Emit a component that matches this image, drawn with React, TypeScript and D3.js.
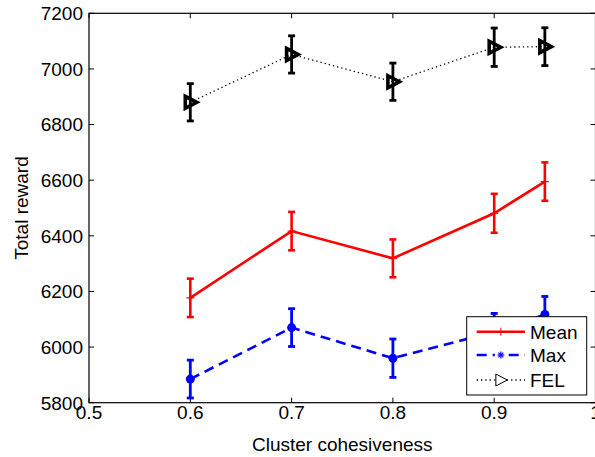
import React from "react";
import * as d3 from "d3";

// chart data
const xVals = [0.6, 0.7, 0.8, 0.9, 0.95];
const meanVals = [6177, 6417, 6319, 6481, 6595];
const meanErr = [69, 69, 68, 70, 69];
const maxVals = [5885, 6070, 5960, 6055, 6117];
const maxErr = [68, 68, 69, 66, 65];
const felVals = [6880, 7052, 6954, 7078, 7080];
const felErr = [67, 67, 67, 69, 68];

const xTicks = [0.5, 0.6, 0.7, 0.8, 0.9, 1];
const yTicks = [5800, 6000, 6200, 6400, 6600, 6800, 7000, 7200];
const legendNames = ["Mean", "Max", "FEL"];

const W = 595;
const H = 457;
const left = 89, right = 595.5, top = 13.3, bottom = 402.7;
const font = "'Liberation Sans', Arial, Helvetica, sans-serif";

const App = () => {
  const x = d3.scaleLinear().domain([0.5, 1]).range([left, right]);
  const y = d3.scaleLinear().domain([5800, 7200]).range([bottom, top]);

  const line = d3.line<number>()
    .x((d, i) => x(xVals[i]))
    .y(d => y(d));

  const errBars = (vals: number[], errs: number[], color: string, sw: number) =>
    vals.map((v, i) => {
      const cx = x(xVals[i]);
      const y1 = y(v + errs[i]);
      const y2 = y(v - errs[i]);
      return (
        <g key={"e" + i} stroke={color} strokeWidth={sw}>
          <line x1={cx} x2={cx} y1={y1} y2={y2} />
          <line x1={cx - 3.5} x2={cx + 3.5} y1={y1} y2={y1} />
          <line x1={cx - 3.5} x2={cx + 3.5} y1={y2} y2={y2} />
        </g>
      );
    });

  const tri = (cx: number, cy: number, s: number) =>
    `M${cx - s * 0.5},${cy - s * 0.6}L${cx + s * 0.65},${cy}L${cx - s * 0.5},${cy + s * 0.6}Z`;

  const star = (cx: number, cy: number, r: number, color: string) => (
    <g stroke={color} strokeWidth={1.2}>
      <line x1={cx - r} x2={cx + r} y1={cy} y2={cy} />
      <line x1={cx} x2={cx} y1={cy - r} y2={cy + r} />
      <line x1={cx - r * 0.7} x2={cx + r * 0.7} y1={cy - r * 0.7} y2={cy + r * 0.7} />
      <line x1={cx - r * 0.7} x2={cx + r * 0.7} y1={cy + r * 0.7} y2={cy - r * 0.7} />
    </g>
  );

  const lgX = 466.7, lgY = 316.7, lgW = 120, lgH = 78.3;
  const rowY = [331.7, 355, 380];
  const sx1 = 476.7, sx2 = 525, smid = (sx1 + sx2) / 2;

  return (
    <svg width={W} height={H} style={{ position: "absolute", left: 0, top: 0, background: "#fff" }}
      fontFamily={font}>
      <rect x={0} y={0} width={W} height={H} fill="#fff" />

      {/* ticks on all four sides */}
      <g stroke="#000" strokeWidth={1}>
        {xTicks.map(t => (
          <g key={"xt" + t}>
            <line x1={x(t)} x2={x(t)} y1={bottom} y2={bottom - 5} />
            <line x1={x(t)} x2={x(t)} y1={top} y2={top + 5} />
          </g>
        ))}
        {yTicks.map(t => (
          <g key={"yt" + t}>
            <line x1={left} x2={left + 5} y1={y(t)} y2={y(t)} />
            <line x1={right} x2={right - 5} y1={y(t)} y2={y(t)} />
          </g>
        ))}
      </g>

      {/* Mean */}
      <path d={line(meanVals) || ""} fill="none" stroke="#ff0000" strokeWidth={2.6} />
      {errBars(meanVals, meanErr, "#ff0000", 2.6)}
      {meanVals.map((v, i) => (
        <g key={"mp" + i} stroke="#ff0000" strokeWidth={1.2}>
          <line x1={x(xVals[i]) - 4} x2={x(xVals[i]) + 4} y1={y(v)} y2={y(v)} />
        </g>
      ))}

      {/* Max */}
      <path d={line(maxVals) || ""} fill="none" stroke="#0000ff" strokeWidth={2.6} strokeDasharray="10,6" />
      {errBars(maxVals, maxErr, "#0000ff", 2.8)}
      {maxVals.map((v, i) => (
        <circle key={"xp" + i} cx={x(xVals[i])} cy={y(v)} r={4.5} fill="#0000ff" />
      ))}

      {/* FEL */}
      <path d={line(felVals) || ""} fill="none" stroke="#000" strokeWidth={1.3} strokeDasharray="1.3,3" />
      {errBars(felVals, felErr, "#000", 2.8)}
      {felVals.map((v, i) => (
        <path key={"fp" + i} d={tri(x(xVals[i]), y(v), 10)} fill="none" stroke="#000" strokeWidth={3.6}
          strokeLinejoin="miter" />
      ))}

      {/* axes box */}
      <rect x={left} y={top} width={right - left} height={bottom - top} fill="none" stroke="#000" strokeWidth={1.2} />

      {/* tick labels */}
      <g fontSize={19} fill="#000">
        {xTicks.map(t => (
          <text key={"xl" + t} x={x(t)} y={419} textAnchor="middle">{d3.format("")(t)}</text>
        ))}
        {yTicks.map(t => (
          <text key={"yl" + t} x={83} y={y(t) + 6.8} textAnchor="end">{t}</text>
        ))}
        <text x={(left + right) / 2} y={451.4} textAnchor="middle">Cluster cohesiveness</text>
        <text transform={`translate(28,${(top + bottom) / 2}) rotate(-90)`} textAnchor="middle">Total reward</text>
      </g>

      {/* legend */}
      <g>
        <rect x={lgX} y={lgY} width={lgW} height={lgH} fill="#fff" stroke="#000" strokeWidth={1} />
        <line x1={sx1} x2={sx2} y1={rowY[0]} y2={rowY[0]} stroke="#ff0000" strokeWidth={2.6} />
        <line x1={smid} x2={smid} y1={rowY[0] - 4} y2={rowY[0] + 4} stroke="#ff0000" strokeWidth={1} />
        <line x1={sx1} x2={sx2} y1={rowY[1]} y2={rowY[1]} stroke="#0000ff" strokeWidth={2.6} strokeDasharray="10,6" strokeDashoffset={0} />
        <rect x={smid - 6} y={rowY[1] - 5} width={12} height={10} fill="#fff" />
        {star(smid, rowY[1], 3.5, "#0000ff")}
        <line x1={sx1} x2={sx2} y1={rowY[2]} y2={rowY[2]} stroke="#000" strokeWidth={1.3} strokeDasharray="1.3,3" />
        <rect x={smid - 6} y={rowY[2] - 6} width={12} height={12} fill="#fff" />
        <path d={tri(smid, rowY[2], 10)} fill="#fff" stroke="#000" strokeWidth={1} />
        {legendNames.map((n, i) => (
          <text key={n} x={530} y={rowY[i] + 6.8} fontSize={19} fill="#000">{n}</text>
        ))}
      </g>
    </svg>
  );
};

export default App;
